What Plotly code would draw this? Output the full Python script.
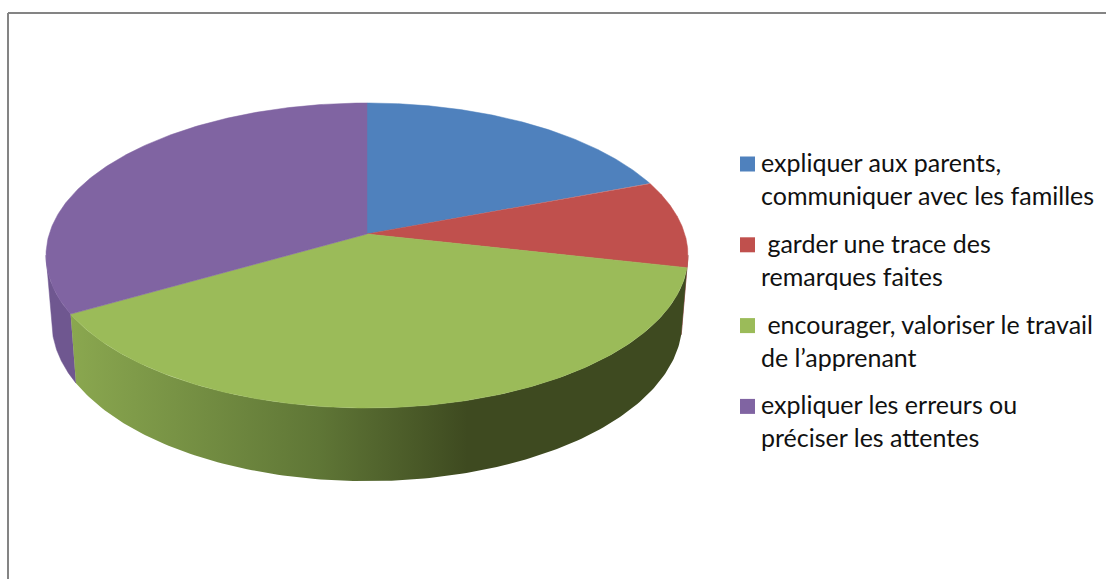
import numpy as np
import plotly.graph_objects as go

categories = [
    "expliquer aux parents,<br>communiquer avec les familles",
    "\u00a0garder une trace des<br>remarques faites",
    "\u00a0encourager, valoriser le travail<br>de l\u2019apprenant",
    "expliquer les erreurs ou<br>préciser les attentes",
]
values = [19.2, 9.3, 38.2, 33.3]
colors = ["#4f81bd", "#c0504d", "#9bbb59", "#8064a2"]
side_colors = ["#3f5f88", "#8a3a38", "#9bbb59", "#6f5790"]

W, H = 1106, 579
CX, APEX_Y, A, B, C = 367.0, 234.0, 149.5, 0.141, 317.8
SIDE_SX, SIDE_Y0, SIDE_SY = 0.982, 299.6, 1.043
LEGEND_X, LEGEND_Y0, LEGEND_STEP, LEGEND_TEXT_X = 747.5, 164.0, 80.8, 758.5


def plan(deg):
    t = np.radians(deg)
    return np.sin(t), np.cos(t)


def top_rim(deg):
    X, Y = plan(deg)
    d = 1 + B * Y
    return CX + C * X / d, APEX_Y - A * Y / d


def low_rim(deg):
    X, Y = plan(deg)
    d = 1 + B * Y
    return CX + SIDE_SX * C * X / d, SIDE_Y0 - SIDE_SY * A * Y / d


edges = np.concatenate([[0], np.cumsum(values)]) / np.sum(values) * 360
fig = go.Figure()

# Visible sides: red, purple, green, drawn beneath the top faces
for i in (1, 3, 2):
    a0, a1 = edges[i], edges[i + 1]
    if i == 1:
        a0 = 98.0
    if i == 3:
        a1 = 262.0
    ang = np.linspace(a0, a1, 160)
    tx, ty = top_rim(ang)
    lx, ly = low_rim(ang[::-1])
    px = np.concatenate([tx, lx, tx[:1]])
    py = np.concatenate([ty, ly, ty[:1]])
    kw = dict(fillcolor=side_colors[i], line=dict(color=side_colors[i], width=0.5))
    if i == 2:
        kw = dict(
            fillgradient=dict(
                type="horizontal", start=72, stop=690,
                colorscale=[[0, "#8aa74f"], [0.1, "#7f9b49"], [0.4, "#5f7636"],
                            [0.64, "#3e4a20"], [1, "#3e4a20"]],
            ),
            line=dict(width=0),
        )
    fig.add_trace(go.Scatter(x=px, y=py, mode="lines", fill="toself",
                             showlegend=False, hoverinfo="skip", **kw))

# Top faces
for i in range(4):
    ang = np.linspace(edges[i], edges[i + 1], 200)
    rx, ry = top_rim(ang)
    fig.add_trace(go.Scatter(
        x=np.concatenate([[CX], rx, [CX]]), y=np.concatenate([[APEX_Y], ry, [APEX_Y]]),
        mode="lines", fill="toself", fillcolor=colors[i],
        line=dict(color=colors[i], width=0.5), showlegend=False,
        hoverinfo="text", text=f"{categories[i]}: {values[i]}%",
    ))

# Legend: square key aligned to the first line of its two-line label
for i in range(4):
    y = LEGEND_Y0 + i * LEGEND_STEP
    fig.add_trace(go.Scatter(
        x=[LEGEND_X], y=[y], mode="markers", name=categories[i], showlegend=False,
        hoverinfo="skip", marker=dict(symbol="square", size=15, color=colors[i], line=dict(width=0)),
    ))
    fig.add_annotation(
        x=LEGEND_TEXT_X, y=y - 19, text=categories[i], showarrow=False,
        xanchor="left", yanchor="top", align="left",
        font=dict(family="Lato", size=25, color="#111111"),
    )

fig.add_shape(type="line", x0=8, x1=W, y0=13, y1=13, line=dict(color="#848484", width=2))
fig.add_shape(type="line", x0=8, x1=8, y0=13, y1=H, line=dict(color="#848484", width=2))

fig.update_layout(
    width=W, height=H, margin=dict(l=0, r=0, t=0, b=0),
    paper_bgcolor="white", plot_bgcolor="white",
    xaxis=dict(range=[0, W], visible=False, fixedrange=True),
    yaxis=dict(range=[H, 0], visible=False, fixedrange=True),
    font=dict(family="Lato", size=25, color="#111111"),
    showlegend=False,
)
fig.write_html("out.html", config={"displayModeBar": False},
               post_script="document.body.style.margin='0';")
